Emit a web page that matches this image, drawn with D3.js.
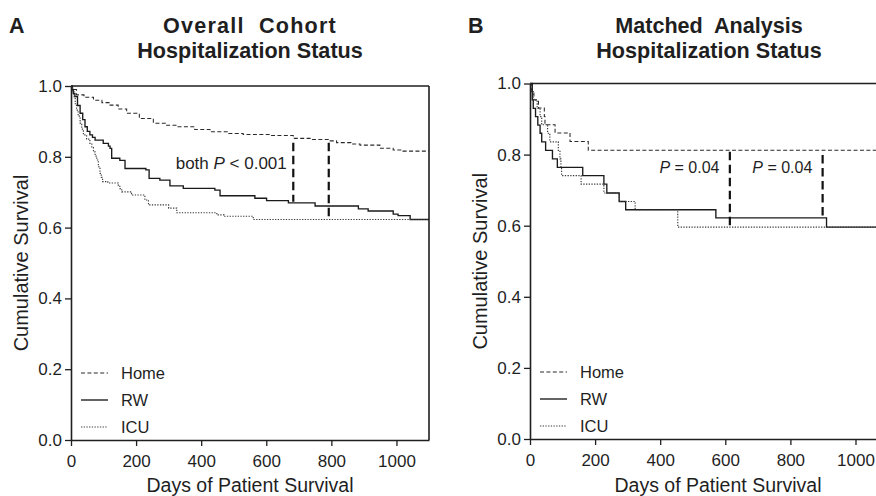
<!DOCTYPE html>
<html>
<head>
<meta charset="utf-8">
<script src="https://cdn.jsdelivr.net/npm/d3@7"></script>
<style>
  html, body { margin: 0; padding: 0; background: #fff; }
  svg { display: block; font-family: "Liberation Sans", Arial, Helvetica, sans-serif; }
</style>
</head>
<body>
<svg id="chart" width="876" height="496"></svg>
<script>
// ---------------- DATA ----------------
const seriesNames = ["Home", "RW", "ICU"];
const xTickValues = [0, 200, 400, 600, 800, 1000];
const yTickValues = [0.0, 0.2, 0.4, 0.6, 0.8, 1.0];

// Panel A – Overall cohort, Kaplan–Meier steps [day, survival]
const aHome = [[0,1],[5,0.99],[17,0.975],[40,0.968],[69,0.96],[95,0.953],[120,0.946],[145,0.935],[171,0.923],[210,0.908],[253,0.895],[290,0.889],[325,0.885],[380,0.877],[427,0.871],[480,0.866],[529,0.863],[611,0.86],[683,0.852],[740,0.849],[796,0.845],[816,0.84],[860,0.836],[888,0.833],[949,0.824],[990,0.819],[1020,0.816]];
const aRW = [[0,1],[3,0.99],[7,0.979],[12,0.97],[20,0.945],[28,0.923],[36,0.905],[43,0.885],[50,0.872],[58,0.862],[66,0.855],[74,0.847],[99,0.838],[115,0.83],[120,0.824],[125,0.796],[150,0.79],[166,0.767],[230,0.763],[240,0.739],[273,0.734],[304,0.718],[345,0.711],[442,0.706],[458,0.69],[565,0.683],[601,0.676],[668,0.67],[750,0.661],[883,0.653],[913,0.647],[990,0.638],[1005,0.634],[1042,0.623]];
const aICU = [[0,1],[4,0.985],[9,0.97],[13,0.95],[17,0.932],[22,0.915],[28,0.895],[33,0.878],[38,0.862],[48,0.85],[58,0.838],[64,0.826],[69,0.814],[74,0.802],[79,0.791],[84,0.772],[89,0.753],[93,0.742],[97,0.73],[113,0.726],[145,0.72],[150,0.71],[156,0.701],[186,0.692],[227,0.678],[238,0.664],[300,0.655],[325,0.642],[448,0.636],[470,0.632],[560,0.623]];

// Panel B – Matched analysis
const bHome = [[0,1],[5,0.977],[12,0.954],[26,0.931],[44,0.907],[46,0.884],[77,0.861],[123,0.837],[179,0.812]];
const bRW = [[0,1],[7,0.954],[10,0.93],[17,0.907],[24,0.883],[31,0.86],[36,0.836],[48,0.812],[69,0.788],[84,0.764],[162,0.741],[227,0.717],[236,0.692],[274,0.668],[294,0.645],[571,0.622],[911,0.596]];
const bICU = [[0,1],[4,0.977],[10,0.954],[22,0.93],[31,0.907],[36,0.884],[54,0.86],[61,0.836],[87,0.812],[92,0.788],[95,0.764],[97,0.741],[157,0.717],[227,0.692],[274,0.668],[323,0.645],[454,0.596]];

// Comparison markers [day, upper survival, lower survival]
const aMarkers = [[683, 0.84, 0.673], [792, 0.84, 0.623]];
const bMarkers = [[614, 0.808, 0.596], [899, 0.799, 0.622]];

const panelLetters = ["A", "B"];
const titlesA = ["Overall  Cohort", "Hospitalization Status"];
const titlesB = ["Matched  Analysis", "Hospitalization Status"];
const xAxisTitle = "Days of Patient Survival";
const yAxisTitle = "Cumulative Survival";

// ---------------- DRAWING ----------------
const svg = d3.select("#chart");
const ink = "#1f1f1f";
const FONT_TICK = 17, FONT_AXIS = 19.5, FONT_LEG = 16.5, FONT_TITLE = 21.6;

const styles = {
  Home: { dash: "4,2.4", width: 1.05, color: "#2a2a2a" },
  RW:   { dash: null,    width: 1.35, color: "#1a1a1a" },
  ICU:  { dash: "1.3,1.4", width: 1.15, color: "#3a3a3a" }
};

function drawPanel(cfg) {
  const g = svg.append("g");
  const x = d3.scaleLinear().domain([0, cfg.xMax]).range([cfg.left, cfg.right]);
  const y = d3.scaleLinear().domain([0, 1]).range([cfg.bottom, cfg.top]);

  // axes
  const yAxis = d3.axisLeft(y).tickValues(yTickValues).tickFormat(d3.format(".1f"))
    .tickSize(6).tickSizeOuter(0).tickPadding(3);
  const xAxis = d3.axisBottom(x).tickValues(xTickValues).tickFormat(d3.format("d"))
    .tickSize(6).tickSizeOuter(0).tickPadding(9);

  const ya = g.append("g").attr("transform", `translate(${cfg.left},0)`).call(yAxis);
  const xa = g.append("g").attr("transform", `translate(0,${cfg.bottom})`).call(xAxis);
  [ya, xa].forEach(a => {
    a.select(".domain").attr("stroke", ink).attr("stroke-width", 1.6);
    a.selectAll(".tick line").attr("stroke", ink).attr("stroke-width", 1.3);
    a.selectAll(".tick text").attr("fill", ink).attr("font-size", FONT_TICK)
      .attr("font-family", "Liberation Sans, Arial, sans-serif");
  });

  // frame: top and right
  g.append("line").attr("x1", cfg.left).attr("x2", cfg.right)
    .attr("y1", y(1)).attr("y2", y(1)).attr("stroke", ink).attr("stroke-width", 1.5);
  if (cfg.rightBorder) {
    g.append("line").attr("x1", cfg.right).attr("x2", cfg.right)
      .attr("y1", y(1)).attr("y2", y(0)).attr("stroke", ink).attr("stroke-width", 1.6);
  }

  // KM curves
  const line = d3.line().x(d => x(d[0])).y(d => y(d[1])).curve(d3.curveStepAfter);
  cfg.series.forEach((pts, i) => {
    const st = styles[seriesNames[i]];
    const full = pts.concat([[cfg.xMax, pts[pts.length - 1][1]]]);
    g.append("path").datum(full).attr("d", line)
      .attr("fill", "none").attr("stroke", st.color).attr("stroke-width", st.width)
      .attr("stroke-dasharray", st.dash);
  });

  // markers
  cfg.markers.forEach(m => {
    g.append("line").attr("x1", x(m[0])).attr("x2", x(m[0]))
      .attr("y1", y(m[1])).attr("y2", y(m[2]))
      .attr("stroke", "#111").attr("stroke-width", 2.2).attr("stroke-dasharray", "8.5,4.5");
  });

  // annotations
  cfg.notes.forEach(n => {
    const t = g.append("text").attr("x", x(n.day)).attr("y", y(n.surv))
      .attr("text-anchor", n.anchor).attr("font-size", n.size).attr("fill", ink)
      .style("white-space", "pre");
    n.parts.forEach(p => {
      t.append("tspan").text(p[0]).attr("font-style", p[1] ? "italic" : "normal");
    });
  });

  // legend
  seriesNames.forEach((name, i) => {
    const st = styles[name];
    const yy = cfg.legY + i * 27;
    g.append("line").attr("x1", cfg.left + 10).attr("x2", cfg.left + 37)
      .attr("y1", yy).attr("y2", yy)
      .attr("stroke", st.color).attr("stroke-width", st.width).attr("stroke-dasharray", st.dash);
    g.append("text").attr("x", cfg.left + 50).attr("y", yy + 6)
      .attr("font-size", FONT_LEG).attr("fill", ink).text(name);
  });

  // axis titles
  g.append("text").attr("x", cfg.xTitleX).attr("y", 492).attr("text-anchor", "middle")
    .attr("font-size", FONT_AXIS).attr("fill", ink).text(xAxisTitle);
  g.append("text").attr("transform", `translate(${cfg.left - 43},${(cfg.top + cfg.bottom) / 2}) rotate(-90)`)
    .attr("text-anchor", "middle").attr("font-size", 20).attr("fill", ink).text(yAxisTitle);

  // titles
  cfg.titles.forEach((tt, i) => {
    g.append("text").attr("x", cfg.titleX).attr("y", 33 + i * 24.5).attr("text-anchor", "middle")
      .attr("font-size", FONT_TITLE).attr("font-weight", "bold").attr("fill", ink)
      .attr("letter-spacing", i === 0 ? cfg.titleSpacing : 0)
      .style("white-space", "pre").text(tt);
  });
  g.append("text").attr("x", cfg.letterX).attr("y", 33).attr("font-size", 21.5)
    .attr("font-weight", "bold").attr("fill", ink).text(cfg.letter);
}

drawPanel({
  left: 71, right: 429, top: 86, bottom: 440, xMax: 1100, rightBorder: true,
  series: [aHome, aRW, aICU], markers: aMarkers,
  notes: [{ day: 663, surv: 0.766, anchor: "end", size: 17,
            parts: [["both ", false], ["P", true], [" < 0.001", false]] }],
  legY: 373, xTitleX: 250, titleX: 250, titleSpacing: 1.2, titles: titlesA,
  letter: panelLetters[0], letterX: 9
});

drawPanel({
  left: 530, right: 876, top: 83.5, bottom: 439, xMax: 1063, rightBorder: false,
  series: [bHome, bRW, bICU], markers: bMarkers,
  notes: [{ day: 582, surv: 0.748, anchor: "end", size: 16, parts: [["P", true], [" = 0.04", false]] },
          { day: 683, surv: 0.748, anchor: "start", size: 16, parts: [["P", true], [" = 0.04", false]] }],
  legY: 372, xTitleX: 718, titleX: 709, titleSpacing: 0, titles: titlesB,
  letter: panelLetters[1], letterX: 468
});
</script>
</body>
</html>
